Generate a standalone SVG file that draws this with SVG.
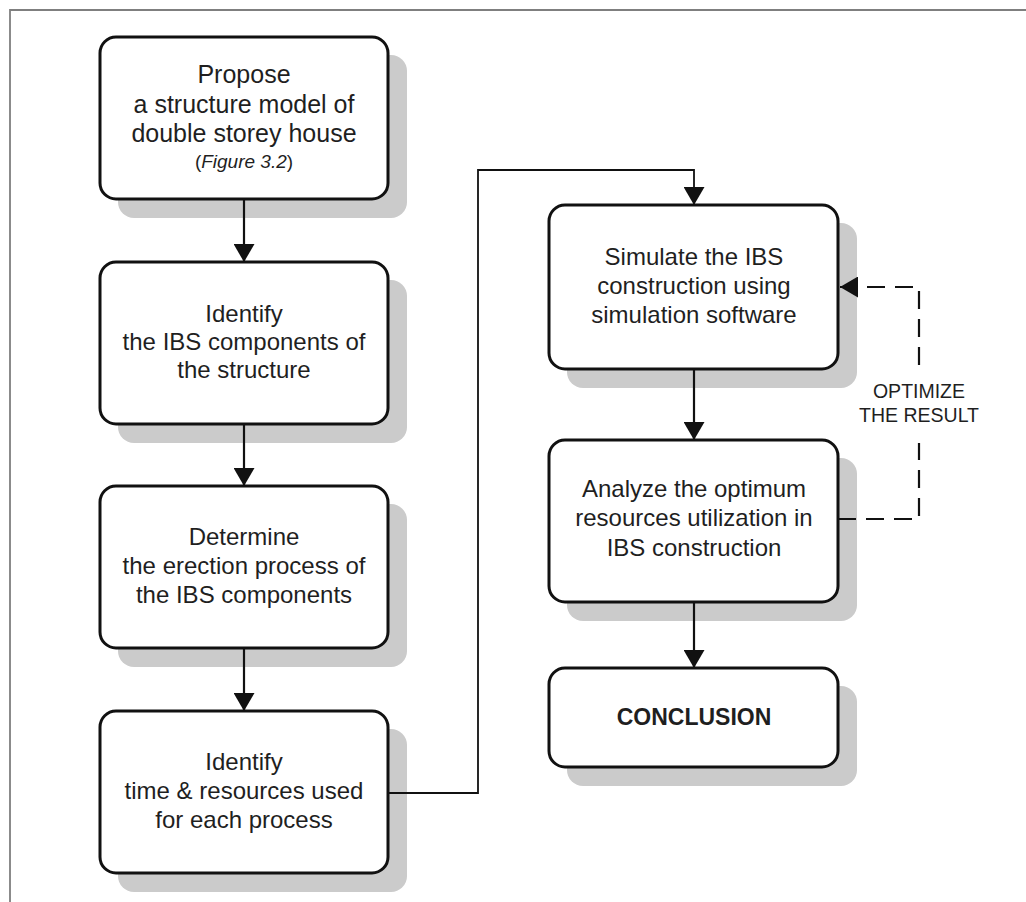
<svg xmlns="http://www.w3.org/2000/svg" width="1026" height="902" viewBox="0 0 1026 902">
  <style>
    .shadow { fill: #cbcbcb; }
    .box { fill: #ffffff; stroke: #111111; stroke-width: 3; }
    .txt { font-family: "Liberation Sans", Arial, sans-serif; font-size: 24px; fill: #1f1f1f; text-anchor: middle; }
    .big { font-size: 25px; }
    .small { font-size: 19px; }
    .bold { font-weight: bold; font-size: 23px; }
    .lbl { font-family: "Liberation Sans", Arial, sans-serif; font-size: 19.5px; fill: #1f1f1f; text-anchor: middle; }
    .flow { fill: none; stroke: #111111; stroke-width: 2.2; }
    .link { fill: none; stroke: #111111; stroke-width: 1.8; }
    .dash { fill: none; stroke: #111111; stroke-width: 2.2; stroke-dasharray: 18 10; }
  </style>
  <defs>
    <marker id="head" viewBox="0 0 18 21" refX="18" refY="10.5" markerWidth="18" markerHeight="21" markerUnits="userSpaceOnUse" orient="auto">
      <path d="M0,0 L18,10.5 L0,21 z" fill="#111111"/>
    </marker>
  </defs>

  <rect width="1026" height="902" fill="#ffffff"/>
  <!-- page frame -->
  <path d="M10,902 V10 H1026" fill="none" stroke="#7f7f7f" stroke-width="1.8"/>

  <g id="n1">
    <rect class="shadow" x="118" y="55" width="289" height="163" rx="16"/>
    <rect class="box" x="100" y="37" width="288" height="162" rx="16"/>
    <text class="txt big" x="244" y="83">Propose</text>
    <text class="txt big" x="244" y="113">a structure model of</text>
    <text class="txt big" x="244" y="142">double storey house</text>
    <text class="txt small" x="244" y="168">(<tspan font-style="italic">Figure 3.2</tspan>)</text>
  </g>

  <g id="n2">
    <rect class="shadow" x="118" y="280" width="289" height="163" rx="16"/>
    <rect class="box" x="100" y="262" width="288" height="162" rx="16"/>
    <text class="txt" x="244" y="322">Identify</text>
    <text class="txt" x="244" y="350">the IBS components of</text>
    <text class="txt" x="244" y="378">the structure</text>
  </g>

  <g id="n3">
    <rect class="shadow" x="118" y="504" width="289" height="163" rx="16"/>
    <rect class="box" x="100" y="486" width="288" height="162" rx="16"/>
    <text class="txt" x="244" y="545">Determine</text>
    <text class="txt" x="244" y="574">the erection process of</text>
    <text class="txt" x="244" y="603">the IBS components</text>
  </g>

  <g id="n4">
    <rect class="shadow" x="118" y="729" width="289" height="163" rx="16"/>
    <rect class="box" x="100" y="711" width="288" height="162" rx="16"/>
    <text class="txt" x="244" y="770">Identify</text>
    <text class="txt" x="244" y="799">time &amp; resources used</text>
    <text class="txt" x="244" y="828">for each process</text>
  </g>

  <g id="n5">
    <rect class="shadow" x="567" y="223" width="290" height="165" rx="16"/>
    <rect class="box" x="549" y="205" width="289" height="164" rx="16"/>
    <text class="txt" x="694" y="265">Simulate the IBS</text>
    <text class="txt" x="694" y="294">construction using</text>
    <text class="txt" x="694" y="323">simulation software</text>
  </g>

  <g id="n6">
    <rect class="shadow" x="567" y="458" width="290" height="163" rx="16"/>
    <rect class="box" x="549" y="440" width="289" height="162" rx="16"/>
    <text class="txt" x="694" y="497">Analyze the optimum</text>
    <text class="txt" x="694" y="526">resources utilization in</text>
    <text class="txt" x="694" y="556">IBS construction</text>
  </g>

  <g id="n7">
    <rect class="shadow" x="567" y="686" width="290" height="100" rx="16"/>
    <rect class="box" x="549" y="668" width="289" height="99" rx="16"/>
    <text class="txt bold" x="694" y="725">CONCLUSION</text>
  </g>

  <g id="connectors">
    <path class="flow" d="M244,199 V262" marker-end="url(#head)"/>
    <path class="flow" d="M244,424 V486" marker-end="url(#head)"/>
    <path class="flow" d="M244,648 V711" marker-end="url(#head)"/>
    <path class="link" d="M388,793 H478 V170 H694 V205" marker-end="url(#head)"/>
    <path class="flow" d="M694,369 V440" marker-end="url(#head)"/>
    <path class="flow" d="M694,602 V668" marker-end="url(#head)"/>
    <!-- feedback loop -->
    <path class="dash" d="M838,519 H919 V443"/>
    <path class="dash" d="M919,365 V287 H840" marker-end="url(#head)"/>
    <text class="lbl" x="919" y="398">OPTIMIZE</text>
    <text class="lbl" x="919" y="422">THE RESULT</text>
  </g>
</svg>
